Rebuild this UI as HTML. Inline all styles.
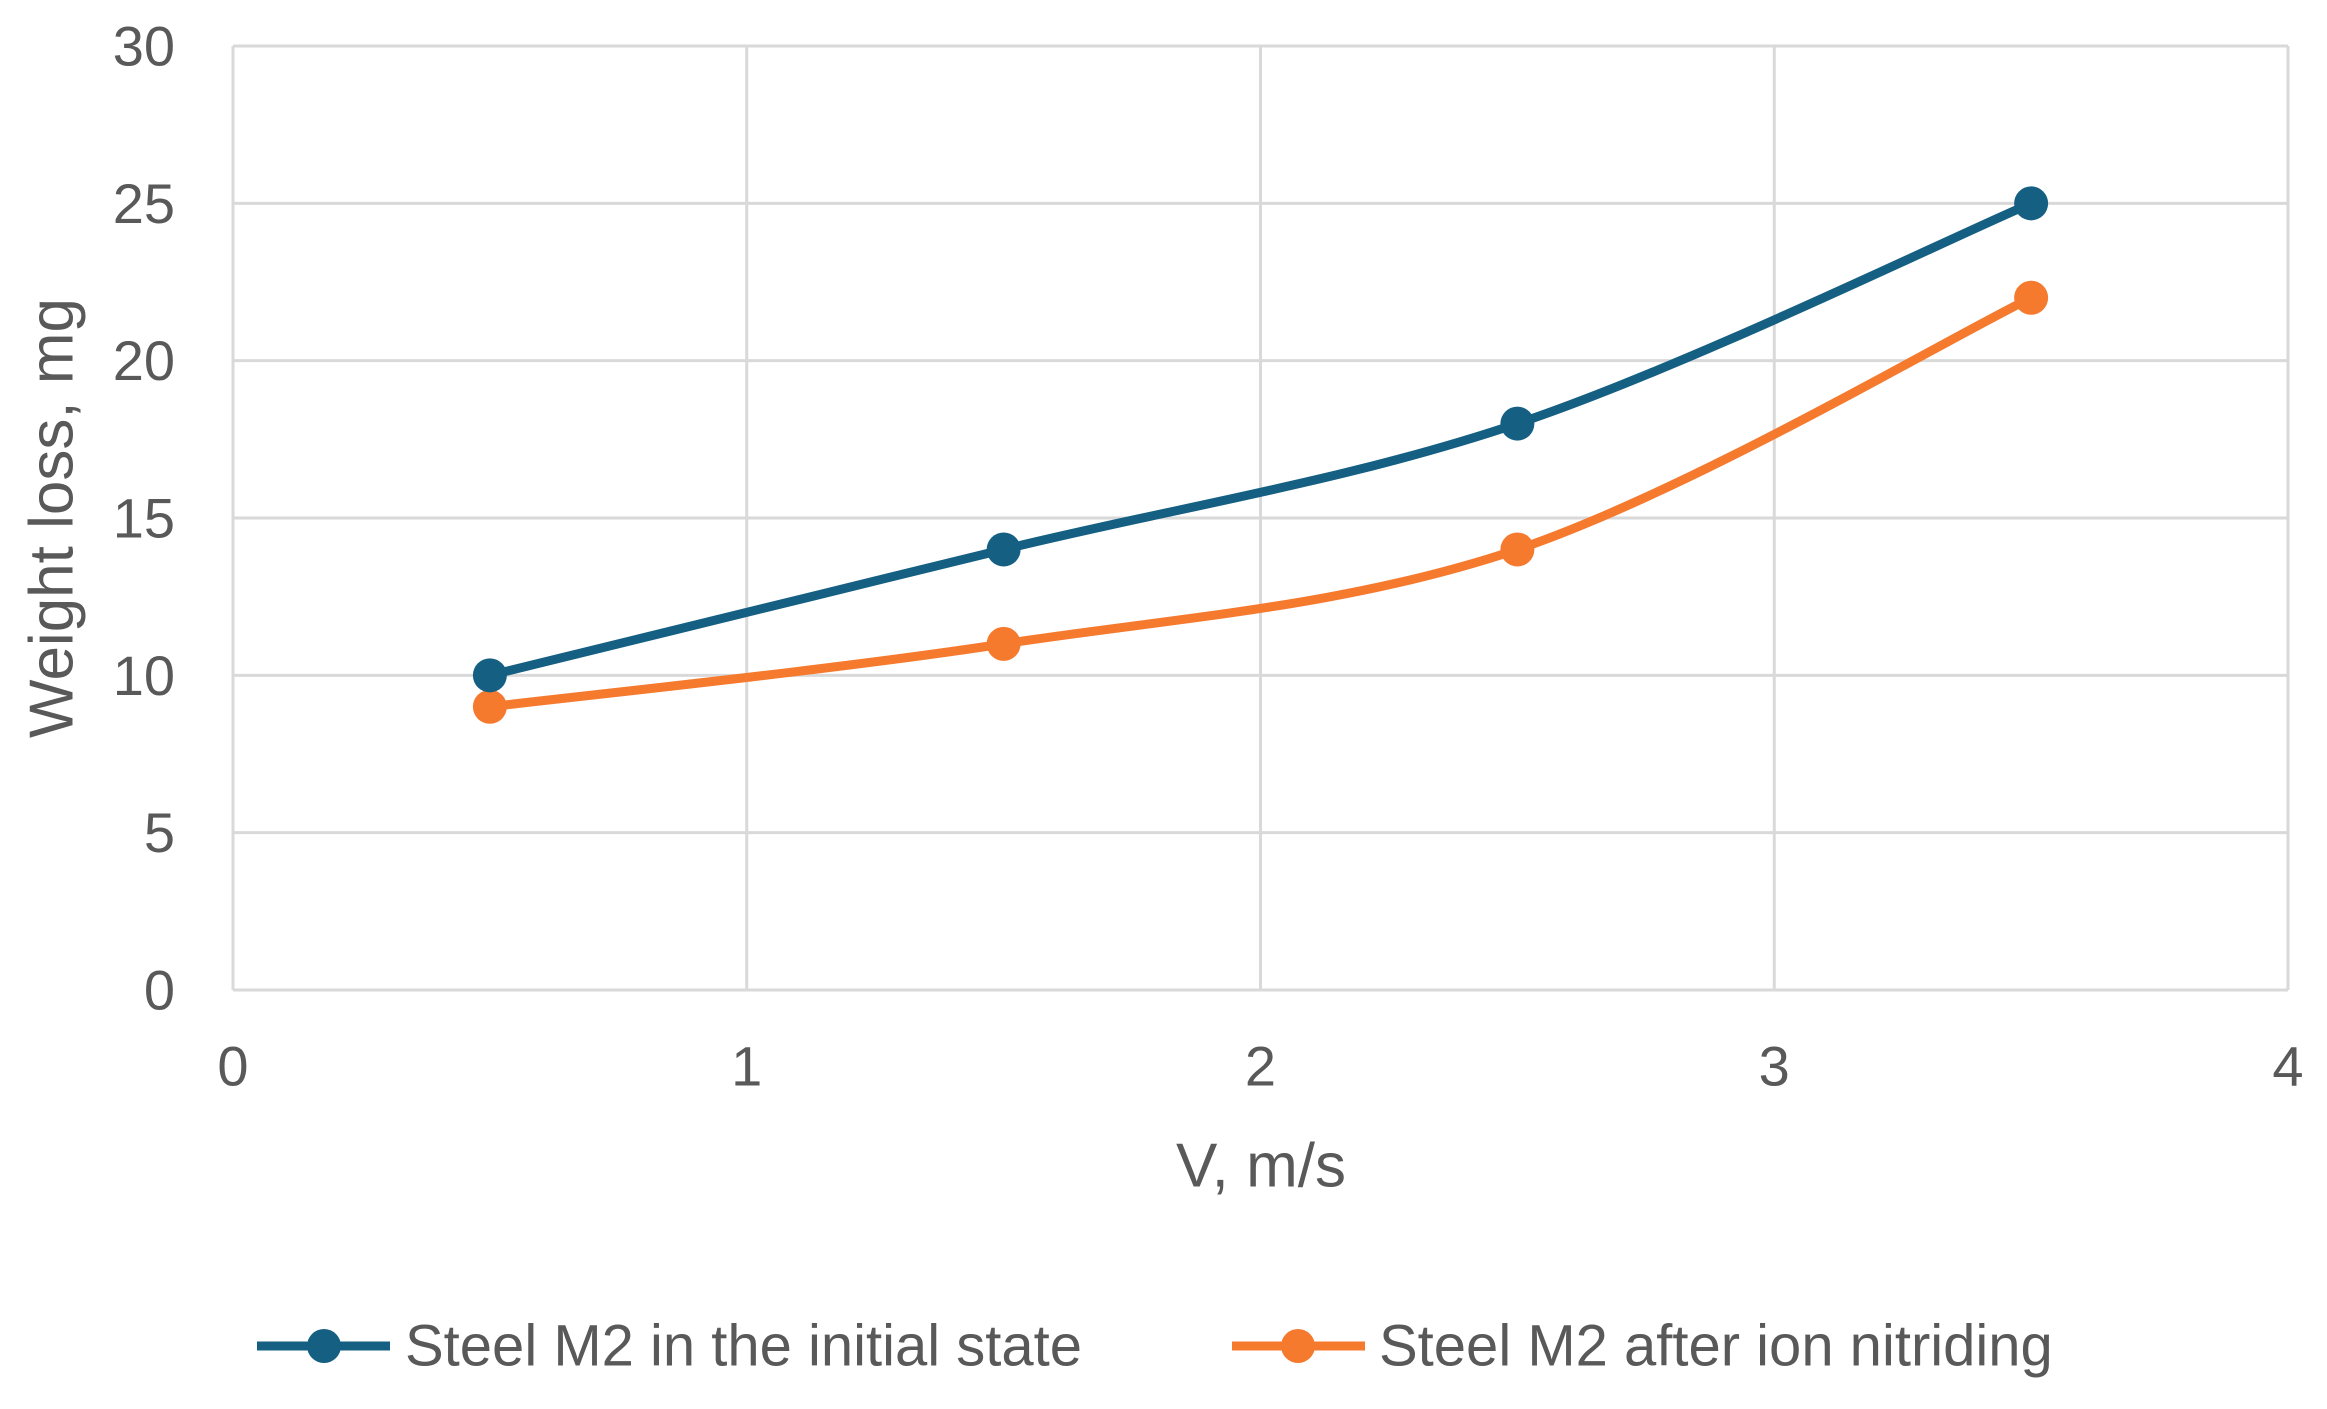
<!DOCTYPE html>
<html><head><meta charset="utf-8"><style>
html,body{margin:0;padding:0;background:#fff;}
svg{display:block;font-family:"Liberation Sans",sans-serif;}
</style></head><body>
<svg id="chart" width="2327" height="1409" viewBox="0 0 2327 1409">
<rect width="2327" height="1409" fill="#fff"/>
<g id="grid"></g>
<g id="ticks"></g>
<g id="series"></g>
<text x="52" y="518" transform="rotate(-90 52 518)" text-anchor="middle" dominant-baseline="central" font-size="62" fill="#595959">Weight loss, mg</text>
<text x="1261" y="1166" text-anchor="middle" dominant-baseline="central" font-size="62" fill="#595959">V, m/s</text>
<g>
<g>
<line x1="257" y1="1346" x2="390" y2="1346" stroke="#156082" stroke-width="9"/>
<circle cx="324" cy="1346" r="17" fill="#156082"/>
<text x="405" y="1346" dominant-baseline="central" font-size="58" fill="#595959">Steel M2 in the initial state</text>
</g>
<g>
<line x1="1232" y1="1346" x2="1365" y2="1346" stroke="#F57A2E" stroke-width="9"/>
<circle cx="1298" cy="1346" r="17" fill="#F57A2E"/>
<text x="1379" y="1346" dominant-baseline="central" font-size="58" fill="#595959">Steel M2 after ion nitriding</text>
</g>
</g>
</svg>
<script>
const xValues = [0.5, 1.5, 2.5, 3.5];
const initialValues = [10, 14, 18, 25];
const nitridedValues = [9, 11, 14, 22];
const xTicks = [0, 1, 2, 3, 4];
const yTicks = [0, 5, 10, 15, 20, 25, 30];

const NS = "http://www.w3.org/2000/svg";
const L = 233, R = 2288, T = 46, B = 990;
const xS = v => L + (v - 0) / 4 * (R - L);
const yS = v => B - (v - 0) / 30 * (B - T);
function mk(tag, attrs, parent) {
  const e = document.createElementNS(NS, tag);
  for (const k in attrs) e.setAttribute(k, attrs[k]);
  parent.appendChild(e);
  return e;
}
const grid = document.getElementById('grid');
const ticks = document.getElementById('ticks');
const series = document.getElementById('series');
yTicks.forEach(v => {
  const ln = mk('line', {x1: L, x2: R, y1: yS(v), y2: yS(v), stroke: '#d9d9d9', 'stroke-width': 3}, grid);
  
  
  const t = mk('text', {x: 175, y: yS(v), 'text-anchor': 'end', 'dominant-baseline': 'central', 'font-size': 56, fill: '#595959'}, ticks);
  t.textContent = v;
  
  
});
xTicks.forEach(v => {
  const ln = mk('line', {x1: xS(v), x2: xS(v), y1: T, y2: B, stroke: '#d9d9d9', 'stroke-width': 3}, grid);
  
  
  const t = mk('text', {x: xS(v), y: 1066, 'text-anchor': 'middle', 'dominant-baseline': 'central', 'font-size': 56, fill: '#595959'}, ticks);
  t.textContent = v;
  
  
});
function smoothPath(pts) {
  let d = 'M' + pts[0][0] + ',' + pts[0][1];
  for (let i = 0; i < pts.length - 1; i++) {
    const p0 = pts[Math.max(0, i - 1)], p1 = pts[i], p2 = pts[i + 1], p3 = pts[Math.min(pts.length - 1, i + 2)];
    const k = 1 / 6;
    const c1 = [p1[0] + (p2[0] - p0[0]) * k, p1[1] + (p2[1] - p0[1]) * k];
    const c2 = [p2[0] - (p3[0] - p1[0]) * k, p2[1] - (p3[1] - p1[1]) * k];
    d += ' C' + c1 + ' ' + c2 + ' ' + p2;
  }
  return d;
}
function drawSeries(vals, color, name) {
  const pts = xValues.map((x, i) => [xS(x), yS(vals[i])]);
  const p = mk('path', {d: smoothPath(pts), fill: 'none', stroke: color, 'stroke-width': 9, 'stroke-linecap': 'round'}, series);
  
  
  pts.forEach(pt => {
    const c = mk('circle', {cx: pt[0], cy: pt[1], r: 17, fill: color}, series);
    
    
  });
}
drawSeries(nitridedValues, '#F57A2E', 'nitrided');
drawSeries(initialValues, '#156082', 'initial');
</script>
</body></html>
